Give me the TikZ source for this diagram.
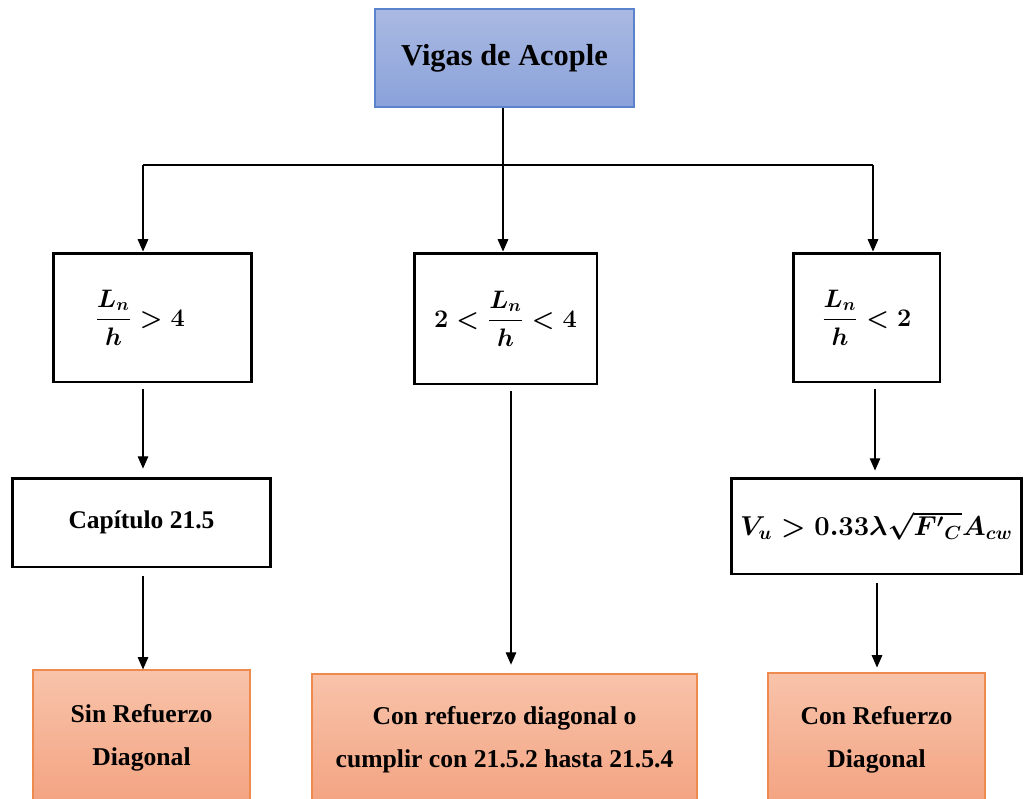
\documentclass[tikz,border=0pt]{standalone}
\usepackage{amsmath}
\usepackage{graphicx}
\usepackage[no-math]{fontspec}
\setmainfont{Liberation Serif}
\usetikzlibrary{arrows.meta,calc}
\definecolor{bluetop}{HTML}{AAB9E2}
\definecolor{bluebot}{HTML}{8AA2DA}
\definecolor{blueline}{HTML}{5B83CC}
\definecolor{orgtop}{HTML}{F8C3AA}
\definecolor{orgbot}{HTML}{F3A381}
\definecolor{orgline}{HTML}{EE8A4E}
\tikzset{
  conbox/.style={draw=black, line width=1.7pt, align=center, inner sep=0pt},
  topbox/.style={draw=blueline, line width=0.9pt, top color=bluetop, bottom color=bluebot,
     align=center, inner sep=0pt, font=\fontsize{17.3}{20}\selectfont\bfseries},
  resbox/.style={draw=orgline, line width=0.7pt, top color=orgtop, bottom color=orgbot,
     align=center, inner sep=0pt, font=\fontsize{14.6}{24.5}\selectfont\bfseries},
  mathtxt/.style={font=\fontsize{14.5}{17}\selectfont\boldmath},
  arr/.style={line width=0.6pt, -{Triangle[width=6pt,length=7pt]}},
  ln/.style={line width=0.6pt}
}
\begin{document}
\begin{tikzpicture}[x=0.02cm,y=-0.02cm]
\useasboundingbox (0,0) rectangle (1026,798);
% top
\node[topbox, minimum width=5.18cm, minimum height=1.96cm] (top) at (504.5,58) {Vigas de Acople};
% conditions
\node[conbox, mathtxt, minimum width=3.98cm, minimum height=2.58cm] (b1) at (152.5,317.5) {$\dfrac{L_n}{h} > \mathbf{4}\hspace{0.5cm}$};
\node[conbox, mathtxt, minimum width=3.66cm, minimum height=2.62cm] (b2) at (505.5,318.5) {$\mathbf{2} < \dfrac{L_n}{h} < \mathbf{4}$};
\node[conbox, mathtxt, minimum width=2.94cm, minimum height=2.58cm] (b3) at (866.5,317.5) {$\dfrac{L_n}{h} < \mathbf{2}$};
% second row
\node[conbox, font=\fontsize{14.5}{17}\selectfont\bfseries, minimum width=5.18cm, minimum height=1.78cm] (cap) at (141.5,522.5) {Capítulo 21.5};
\node[conbox, mathtxt, minimum width=5.82cm, minimum height=1.92cm] (vu) at (876.5,526) {\scalebox{1.08}{$V_u > \mathbf{0.33}\lambda\sqrt{{F'}_{C}}A_{cw}$}};
% results
\node[resbox, minimum width=4.34cm, minimum height=2.72cm] (o1) at (141.5,738) {Sin Refuerzo\\Diagonal};
\node[resbox, minimum width=7.70cm, minimum height=2.64cm] (o2) at (504.5,740) {Con refuerzo diagonal o\\cumplir con 21.5.2 hasta 21.5.4};
\node[resbox, minimum width=4.34cm, minimum height=2.66cm] (o3) at (876.5,739.5) {Con Refuerzo\\Diagonal};
% connectors
\coordinate (j) at (503,165);
\coordinate (jl) at (143,165);
\coordinate (jr) at (873,165);
\coordinate (xm) at (511,0);
\coordinate (xr1) at (875,0);
\coordinate (xr2) at (877,0);
\draw[ln] (top.south -| j) -- (j);
\draw[ln] (jl) -- (jr);
\draw[arr] (jl) -- (b1.north -| jl);
\draw[arr] (j) -- (b2.north -| j);
\draw[arr] (jr) -- (b3.north -| jr);
\draw[arr, shorten <=3.4pt, shorten >=4.5pt] (b1.south -| jl) -- (cap.north -| jl);
\draw[arr, shorten <=4.5pt, shorten >=0pt] (cap.south -| jl) -- (o1.north -| jl);
\draw[arr, shorten <=3.4pt, shorten >=5pt] (b2.south -| xm) -- (o2.north -| xm);
\draw[arr, shorten <=3.4pt, shorten >=3.4pt] (b3.south -| xr1) -- (vu.north -| xr1);
\draw[arr, shorten <=4.5pt, shorten >=2.8pt] (vu.south -| xr2) -- (o3.north -| xr2);
\end{tikzpicture}
\end{document}
